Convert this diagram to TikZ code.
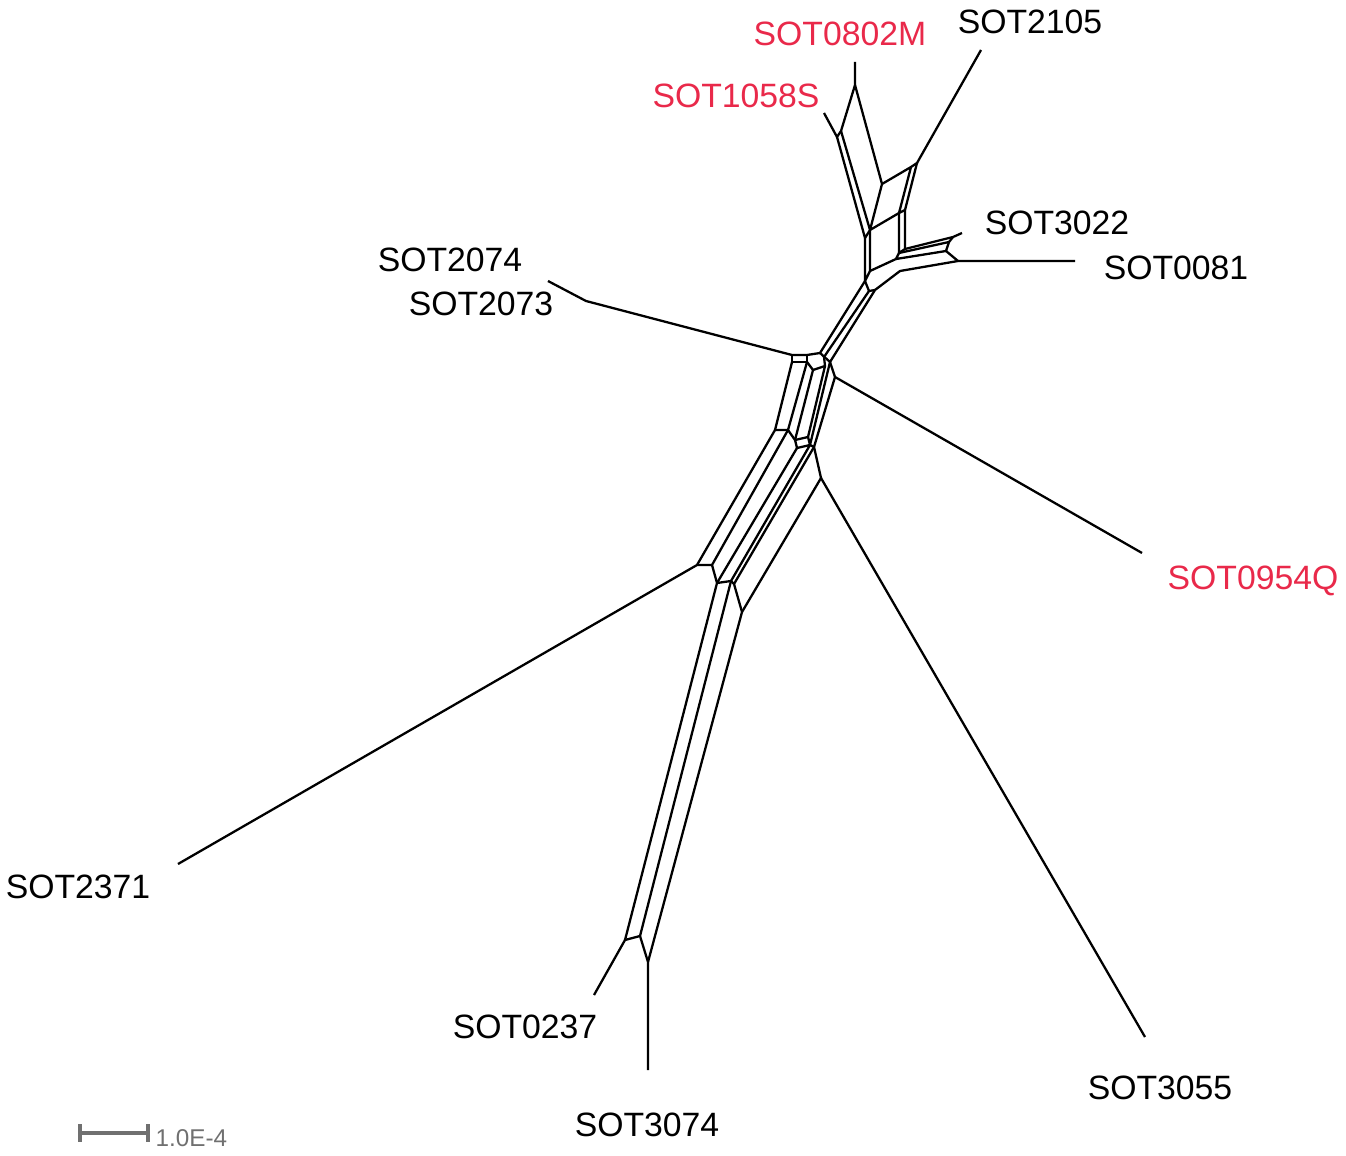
\documentclass[tikz,border=0pt]{standalone}
\usepackage{fontspec}
\setmainfont{Liberation Sans}
\definecolor{taxred}{RGB}{233,41,74}
\definecolor{bargray}{RGB}{112,112,112}
\tikzset{tax/.style={inner sep=0pt,text depth=0pt,font=\fontsize{9.6}{11}\selectfont},
  hl/.style={tax,text=taxred},
  net/.style={line width=0.65pt,line join=round},
  sbar/.style={bargray,line width=1.1pt}}
\begin{document}
\begin{tikzpicture}[x=0.01cm,y=-0.01cm]
    \useasboundingbox (0,0) rectangle (1346,1155);
    \node[hl] (s0802) at (840,34) {SOT0802M}; \node[tax] (s2105) at (1030,22) {SOT2105};
    \node[hl] (s1058) at (736,96) {SOT1058S};
    \node[tax] (s3022) at (1057,223) {SOT3022}; \node[tax] (s0081) at (1176,268) {SOT0081};
    \node[tax] (s2074) at (450,260) {SOT2074}; \node[tax] (s2073) at (481,304) {SOT2073};
    \node[hl] (s0954) at (1253,578) {SOT0954Q};
    \node[tax] (s2371) at (78,887) {SOT2371}; \node[tax] (s0237) at (525,1027) {SOT0237};
    \node[tax] (s3074) at (647,1125) {SOT3074}; \node[tax] (s3055) at (1160,1088) {SOT3055};
    \coordinate (a1) at (855,62); \coordinate (a2) at (855,85); \coordinate (a3) at (841,131); \coordinate (a4) at (837,137);
    \coordinate (a5) at (824,113); \coordinate (a6) at (882,184); \coordinate (a7) at (870,230); \coordinate (a8) at (865,238);
    \coordinate (b1) at (981,50); \coordinate (b2) at (917,163); \coordinate (b3) at (911,167); \coordinate (b4) at (905,210); \coordinate (b5) at (899,213);
    \coordinate (c3) at (899,253); \coordinate (c4) at (905,249);
    \coordinate (d1) at (962,233); \coordinate (d2) at (953,237); \coordinate (d3) at (949,242); \coordinate (d4) at (946,251);
    \coordinate (d6) at (958,261); \coordinate (d5) at (1075,261);
    \coordinate (g1) at (865,281); \coordinate (g2) at (870,271); \coordinate (h1) at (896,259); \coordinate (h2) at (900,271);
    \coordinate (t2) at (869,291); \coordinate (t3) at (875,290);
    \coordinate (m1) at (820,353); \coordinate (s2) at (824,357); \coordinate (m2) at (830,362); \coordinate (m3) at (835,377);
    \coordinate (m4) at (813,370); \coordinate (m5) at (825,366);
    \coordinate (r1) at (792,355); \coordinate (r2) at (807,355); \coordinate (r3) at (807,362); \coordinate (r4) at (792,362);
    \coordinate (l1) at (548,281); \coordinate (l2) at (586,301); \coordinate (q1) at (1142,553);
    \coordinate (n1) at (775,430); \coordinate (n2) at (788,430); \coordinate (n3) at (795,440); \coordinate (n4) at (808,437);
    \coordinate (n5) at (797,448); \coordinate (n6) at (810,445); \coordinate (n7) at (814,447); \coordinate (n8) at (821,478);
    \coordinate (o1) at (697,565); \coordinate (o2) at (712,565); \coordinate (o3) at (717,583); \coordinate (o4) at (731,581);
    \coordinate (o6) at (734,584); \coordinate (o5) at (742,612);
    \coordinate (p1) at (178,864); \coordinate (p2) at (1145,1037);
    \coordinate (e1) at (625,940); \coordinate (e2) at (640,936); \coordinate (e3) at (648,962);
    \coordinate (f1) at (594,995); \coordinate (f2) at (648,1070);
    \draw[net] (a1) -- (a2) -- (a3) -- (a4) -- (a5); \draw[net] (a2) -- (a6) -- (a7) -- (a8) -- (a4); \draw[net] (a3) -- (a7);
    \draw[net] (a6) -- (b3) -- (b2) -- (b1); \draw[net] (b3) -- (b5) -- (b4) -- (b2); \draw[net] (b5) -- (a7);
    \draw[net] (a8) -- (g1) -- (g2) -- (a7); \draw[net] (b5) -- (c3) -- (c4) -- (b4);
    \draw[net] (c4) -- (d2) -- (d1); \draw[net] (c3) -- (d3) -- (d2); \draw[net] (d3) -- (d4) -- (d6) -- (d5);
    \draw[net] (c3) -- (h1) -- (d4); \draw[net] (g2) -- (h1); \draw[net] (t3) -- (h2) -- (d6);
    \draw[net] (g1) -- (t2) -- (t3); \draw[net] (g1) -- (m1); \draw[net] (t2) -- (s2); \draw[net] (t3) -- (m2);
    \draw[net] (l1) -- (l2) -- (r1) -- (r2) -- (m1) -- (m2) -- (m3) -- (q1);
    \draw[net] (r1) -- (r4) -- (r3) -- (r2); \draw[net] (r3) -- (m4) -- (m5) -- (s2);
    \draw[net] (r4) -- (n1); \draw[net] (r3) -- (n2); \draw[net] (m4) -- (n3); \draw[net] (m5) -- (n4);
    \draw[net] (m2) -- (n6); \draw[net] (m3) -- (n7);
    \draw[net] (n1) -- (n2) -- (n3) -- (n4) -- (n6) -- (n7) -- (n8); \draw[net] (n3) -- (n5) -- (n6);
    \draw[net] (n1) -- (o1); \draw[net] (n2) -- (o2); \draw[net] (n5) -- (o3); \draw[net] (n6) -- (o4); \draw[net] (n7) -- (o6);
    \draw[net] (n8) -- (o5); \draw[net] (n8) -- (p2);
    \draw[net] (p1) -- (o1) -- (o2) -- (o3) -- (o4) -- (o6) -- (o5);
    \draw[net] (o3) -- (e1); \draw[net] (o4) -- (e2); \draw[net] (o5) -- (e3);
    \draw[net] (f1) -- (e1) -- (e2) -- (e3) -- (f2);
    \coordinate (k1) at (80,1133); \coordinate (k2) at (148,1133);
    \draw[sbar] (k1) -- (k2); \draw[sbar] ([yshift=-2.5pt]k1) -- ([yshift=2.5pt]k1);
    \draw[sbar] ([yshift=-2.5pt]k2) -- ([yshift=2.5pt]k2);
    \node[inner sep=0pt,anchor=west,text=bargray,font=\fontsize{6.9}{8}\selectfont] (slab) at (155,1138) {1.0E-4};
\end{tikzpicture}
\end{document}
